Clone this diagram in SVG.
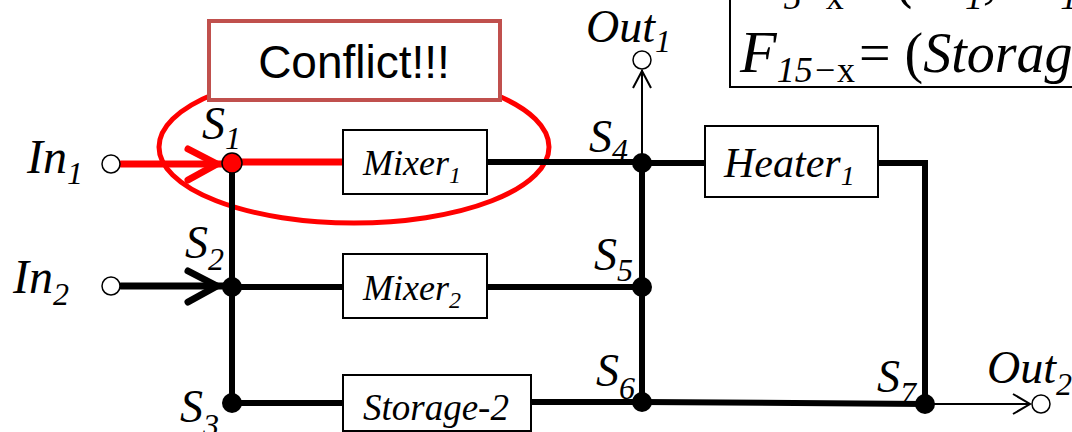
<svg xmlns="http://www.w3.org/2000/svg" width="1072" height="432" viewBox="0 0 1072 432">
<style>
.lbl{font-family:"Liberation Serif","Times New Roman",serif;font-style:italic;fill:#000}
.s{font-size:46px}
.sub{font-size:32px}
.box{fill:#fff;stroke:#000;stroke-width:2}
.thick{stroke:#000;stroke-width:6;fill:none}
.red{stroke:#ff0000;stroke-width:7;fill:none;stroke-linecap:round;stroke-linejoin:round}
.blk{stroke:#000;stroke-width:7;fill:none;stroke-linecap:round;stroke-linejoin:round}
.thin{stroke:#000;stroke-width:2;fill:none}
.port{fill:#fff;stroke:#000;stroke-width:1.5}
.node{fill:#000}
</style>
<rect width="1072" height="432" fill="#fff"/>

<g id="formula">
<rect x="730" y="-20" width="360" height="107" fill="#fff" stroke="#000" stroke-width="2"/>
<text class="lbl" x="748" y="-3" font-size="58">F<tspan font-size="36" dy="12">5−</tspan><tspan font-size="36" font-style="normal">x</tspan><tspan dy="-12">= (In</tspan><tspan font-size="36" dy="12">1</tspan><tspan dy="-12">, In</tspan><tspan font-size="36" dy="12">1</tspan><tspan dy="-12">,</tspan></text>
<text class="lbl" x="740" y="72" font-size="60">F<tspan font-size="36" dy="10">15−</tspan><tspan font-size="36" font-style="normal">x</tspan></text>
<text class="lbl" x="859" y="72" font-size="56"><tspan font-style="normal">= (</tspan>Storage</text>
</g>

<g id="conflict">
<ellipse cx="354" cy="147" rx="195" ry="76" fill="none" stroke="#ff0000" stroke-width="5"/>
</g>

<g id="connectors">
<line class="red" x1="121" y1="164" x2="230" y2="164"/>
<polyline class="red" points="188,149 217,164 188,180"/>
<line class="red" x1="232" y1="162" x2="343" y2="162" stroke-linecap="butt"/>
<line class="blk" x1="121" y1="286" x2="230" y2="286"/>
<polyline class="blk" points="188,271 217,286 188,302"/>
<line class="thick" x1="232" y1="168" x2="232" y2="403"/>
<line class="thick" x1="232" y1="287" x2="343" y2="287"/>
<line class="thick" x1="487" y1="287" x2="642" y2="287"/>
<line class="thick" x1="232" y1="403" x2="343" y2="403"/>
<line class="thick" x1="531" y1="402" x2="642" y2="402"/>
<line class="thick" x1="642" y1="402" x2="925" y2="404"/>
<line class="thick" x1="487" y1="162" x2="642" y2="162"/>
<line class="thick" x1="642" y1="163" x2="705" y2="163"/>
<polyline class="thick" points="878,163 925,163 925,404"/>
<line class="thick" x1="642" y1="163" x2="642" y2="402"/>
<line class="thin" x1="642" y1="163" x2="642" y2="70"/>
<polyline class="thin" points="633,88 642,71 651,88"/>
<line class="thin" x1="925" y1="404" x2="1030" y2="404"/>
<polyline class="thin" points="1013,394 1030,404 1013,414"/>
</g>

<g id="conflict-label">
<rect x="209" y="21" width="291" height="79" fill="#fff" stroke="#c0504d" stroke-width="4"/>
<text x="354" y="78" font-family="'Liberation Sans',Arial,sans-serif" font-size="46" text-anchor="middle" fill="#000">Conflict!!!</text>
</g>

<g id="in1">
<circle class="port" cx="111" cy="164" r="9"/>
<text class="lbl" font-size="48" x="27" y="173">In<tspan class="sub" dy="11">1</tspan></text>
</g>
<g id="in2">
<circle class="port" cx="111" cy="286" r="9"/>
<text class="lbl" font-size="48" x="13" y="293">In<tspan class="sub" dy="12">2</tspan></text>
</g>
<g id="out1">
<circle class="port" cx="642" cy="60" r="9"/>
<text class="lbl s" x="586" y="42">Out<tspan class="sub" dy="10">1</tspan></text>
</g>
<g id="out2">
<circle class="port" cx="1041" cy="404" r="9"/>
<text class="lbl s" x="987" y="383">Out<tspan class="sub" dy="12">2</tspan></text>
</g>

<g id="s1">
<circle cx="232" cy="163" r="10" fill="#ff0000" stroke="#000" stroke-width="1.5"/>
<text class="lbl s" x="202" y="139">S<tspan class="sub" dy="10">1</tspan></text>
</g>
<g id="s2">
<circle class="node" cx="232" cy="287" r="10"/>
<text class="lbl s" x="185" y="258">S<tspan class="sub" dy="12">2</tspan></text>
</g>
<g id="s3">
<circle class="node" cx="232" cy="403" r="10"/>
<text class="lbl s" x="180" y="422">S<tspan class="sub" dy="14">3</tspan></text>
</g>
<g id="s4">
<circle class="node" cx="642" cy="163" r="10"/>
<text class="lbl s" x="589" y="152">S<tspan class="sub" dy="9">4</tspan></text>
</g>
<g id="s5">
<circle class="node" cx="642" cy="287" r="10"/>
<text class="lbl s" x="594" y="270">S<tspan class="sub" dy="11">5</tspan></text>
</g>
<g id="s6">
<circle class="node" cx="642" cy="402" r="10"/>
<text class="lbl s" x="596" y="386">S<tspan class="sub" dy="13">6</tspan></text>
</g>
<g id="s7">
<circle class="node" cx="925" cy="404" r="10"/>
<text class="lbl s" x="877" y="392">S<tspan class="sub" dy="12">7</tspan></text>
</g>

<g id="mixer1">
<rect class="box" x="343" y="130" width="144" height="64"/>
<text class="lbl" x="363" y="175" font-size="36">Mixer<tspan font-size="24" dy="8">1</tspan></text>
</g>
<g id="mixer2">
<rect class="box" x="343" y="254" width="144" height="64"/>
<text class="lbl" x="363" y="300" font-size="36">Mixer<tspan font-size="24" dy="8">2</tspan></text>
</g>
<g id="heater1">
<rect class="box" x="705" y="126" width="173" height="71"/>
<text class="lbl" x="724" y="177" font-size="42">Heater<tspan font-size="28" dy="8">1</tspan></text>
</g>
<g id="storage2">
<rect class="box" x="343" y="375" width="188" height="56"/>
<text class="lbl" x="363" y="420" font-size="37">Storage-2</text>
</g>
</svg>
